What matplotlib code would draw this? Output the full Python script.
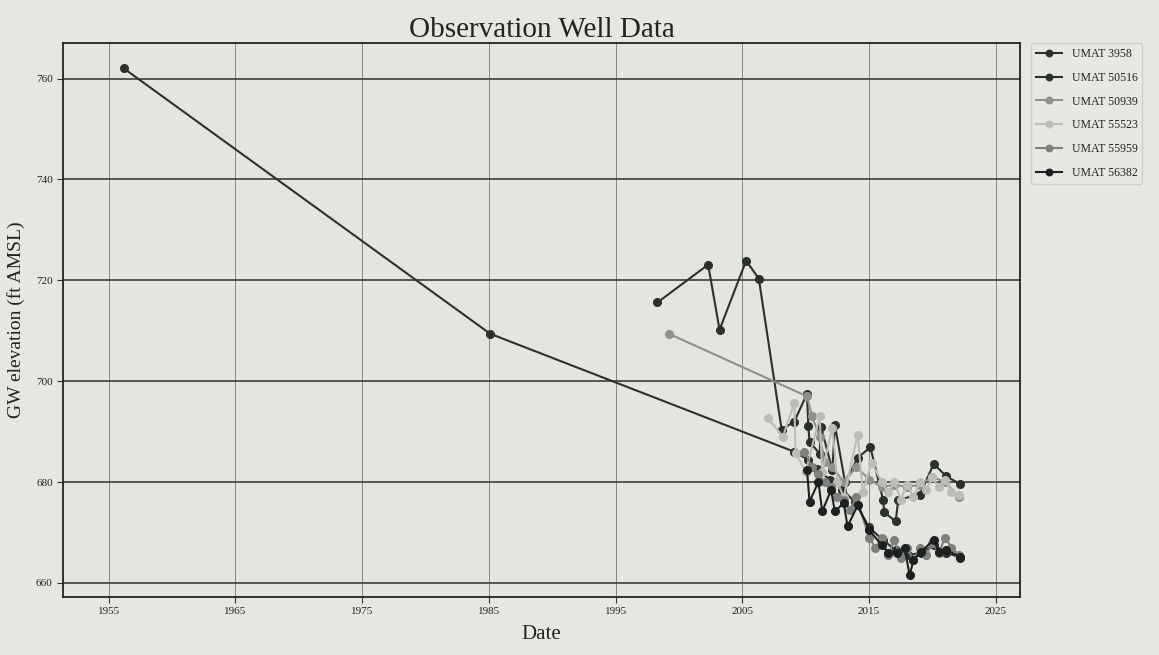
import matplotlib
matplotlib.use("Agg")
import matplotlib.pyplot as plt

plt.rcParams['font.family'] = ['Liberation Serif', 'DejaVu Serif']

# ---- data (decimal year, elevation ft AMSL) ----
umat3958_x = [1956.2, 1985.1, 2009.1, 2010.2, 2010.9, 2011.9, 2012.9, 2013.9, 2015.0,
              2016.1, 2017.1, 2018.1, 2019.1, 2020.1, 2021.1, 2022.2]
umat3958_y = [762.0, 709.4, 686.0, 684.4, 682.5, 680.5, 678.5, 676.0, 671.0,
              668.5, 666.5, 665.5, 666.0, 667.5, 666.0, 665.0]

umat50516_x = [1998.3, 2002.3, 2003.2, 2005.3, 2006.3, 2008.1, 2009.1, 2010.1, 2010.2,
               2010.3, 2011.1, 2011.2, 2012.1, 2012.3, 2013.1, 2014.1, 2015.1,
               2016.1, 2016.2, 2017.1, 2017.3, 2019.0, 2020.1, 2021.1, 2022.2]
umat50516_y = [715.6, 723.1, 710.2, 723.9, 720.3, 690.4, 692.0, 697.5, 691.2,
               688.0, 685.6, 691.0, 682.4, 691.3, 680.0, 684.8, 686.9,
               676.5, 674.0, 672.2, 676.5, 677.5, 683.6, 681.1, 679.6]

umat50939_x = [1999.2, 2010.1, 2010.5, 2011.1, 2011.5, 2012.1, 2013.0, 2014.0,
               2015.0, 2016.0, 2017.0, 2018.0, 2019.0, 2020.0, 2021.0, 2022.1]
umat50939_y = [709.4, 697.0, 693.0, 689.0, 684.0, 683.0, 680.0, 683.0,
               680.5, 679.0, 679.5, 679.0, 679.5, 681.0, 680.0, 677.0]

umat55523_x = [2007.0, 2008.2, 2009.1, 2009.2, 2010.0, 2011.1, 2011.3, 2012.1, 2012.5,
               2013.0, 2014.1, 2014.5, 2015.2, 2016.0, 2016.5, 2017.0, 2017.5,
               2018.0, 2018.5, 2019.0, 2019.5, 2020.0, 2020.5, 2021.0, 2021.5, 2022.1]
umat55523_y = [692.7, 689.0, 695.7, 685.8, 682.0, 693.0, 682.0, 690.8, 680.0,
               677.0, 689.4, 678.0, 683.8, 680.0, 678.0, 680.0, 676.5,
               679.5, 677.0, 680.0, 678.5, 681.0, 679.0, 680.5, 678.0, 677.5]

umat55959_x = [2009.9, 2010.5, 2011.0, 2011.5, 2012.0, 2012.5, 2013.0, 2013.5, 2014.0,
               2015.0, 2015.5, 2016.0, 2016.5, 2017.0, 2017.5, 2018.0, 2018.5,
               2019.0, 2019.5, 2020.0, 2020.5, 2021.0, 2021.5, 2022.1]
umat55959_y = [686.0, 683.0, 681.5, 680.0, 679.0, 677.0, 676.5, 674.5, 677.0,
               669.0, 667.0, 669.0, 665.5, 668.5, 665.0, 667.0, 664.5,
               667.0, 665.5, 668.0, 666.0, 669.0, 667.0, 665.5]

umat56382_x = [2010.1, 2010.3, 2011.0, 2011.3, 2012.0, 2012.3, 2013.0, 2013.3, 2014.1,
               2015.0, 2016.0, 2016.5, 2017.2, 2017.8, 2018.2, 2018.5, 2019.1,
               2020.1, 2020.5, 2021.1, 2022.2]
umat56382_y = [682.4, 676.1, 680.0, 674.2, 678.4, 674.2, 675.8, 671.2, 675.4,
               670.5, 667.5, 666.0, 665.9, 667.0, 661.5, 664.5, 666.2,
               668.5, 666.2, 666.5, 665.2]

series = [
    ("UMAT 3958", umat3958_x, umat3958_y, "#2e302e"),
    ("UMAT 50516", umat50516_x, umat50516_y, "#2a302c"),
    ("UMAT 50939", umat50939_x, umat50939_y, "#8e908c"),
    ("UMAT 55523", umat55523_x, umat55523_y, "#bcbdb8"),
    ("UMAT 55959", umat55959_x, umat55959_y, "#7e807c"),
    ("UMAT 56382", umat56382_x, umat56382_y, "#1c201e"),
]

xticks = [1955, 1965, 1975, 1985, 1995, 2005, 2015, 2025]
yticks = [660, 680, 700, 720, 740, 760]

fig = plt.figure(figsize=(11.59, 6.55), dpi=100, facecolor="#e6e6e2")
ax = fig.add_axes([0.0544, 0.0885, 0.8256, 0.8455])
ax.set_facecolor("#e4e4e0")

for name, xs, ys, c in series:
    ax.plot(xs, ys, "-o", color=c, lw=1.5, ms=5.5, label=name,
            markeredgecolor=c)

ax.set_xlim(1951.4, 2026.9)
ax.set_ylim(657.2, 767.0)
ax.set_xticks(xticks)
ax.set_yticks(yticks)
ax.tick_params(axis="both", labelsize=8, direction="out", length=4,
               color="#333333", labelcolor="#222222")

ax.grid(axis="y", color="#4a4a4a", lw=1.3)
ax.grid(axis="x", color="#777777", lw=0.6)
ax.set_axisbelow(True)
for s in ax.spines.values():
    s.set_color("#222222")
    s.set_linewidth(1.3)

ax.set_title("Observation Well Data", fontsize=21, color="#222222", pad=3)
ax.set_xlabel("Date", fontsize=15, color="#222222", labelpad=6)
ax.set_ylabel("GW elevation (ft AMSL)", fontsize=14, color="#222222", labelpad=8)

leg = ax.legend(loc="upper left", bbox_to_anchor=(1.012, 1.0), fontsize=8.5,
                frameon=True, facecolor="#e8e8e4", edgecolor="#c8c8c4",
                handlelength=2.2, borderaxespad=0.0, labelspacing=1.0,
                markerscale=0.85)
for t in leg.get_texts():
    t.set_color("#222222")

fig.savefig("out.png", dpi=100, facecolor=fig.get_facecolor())
